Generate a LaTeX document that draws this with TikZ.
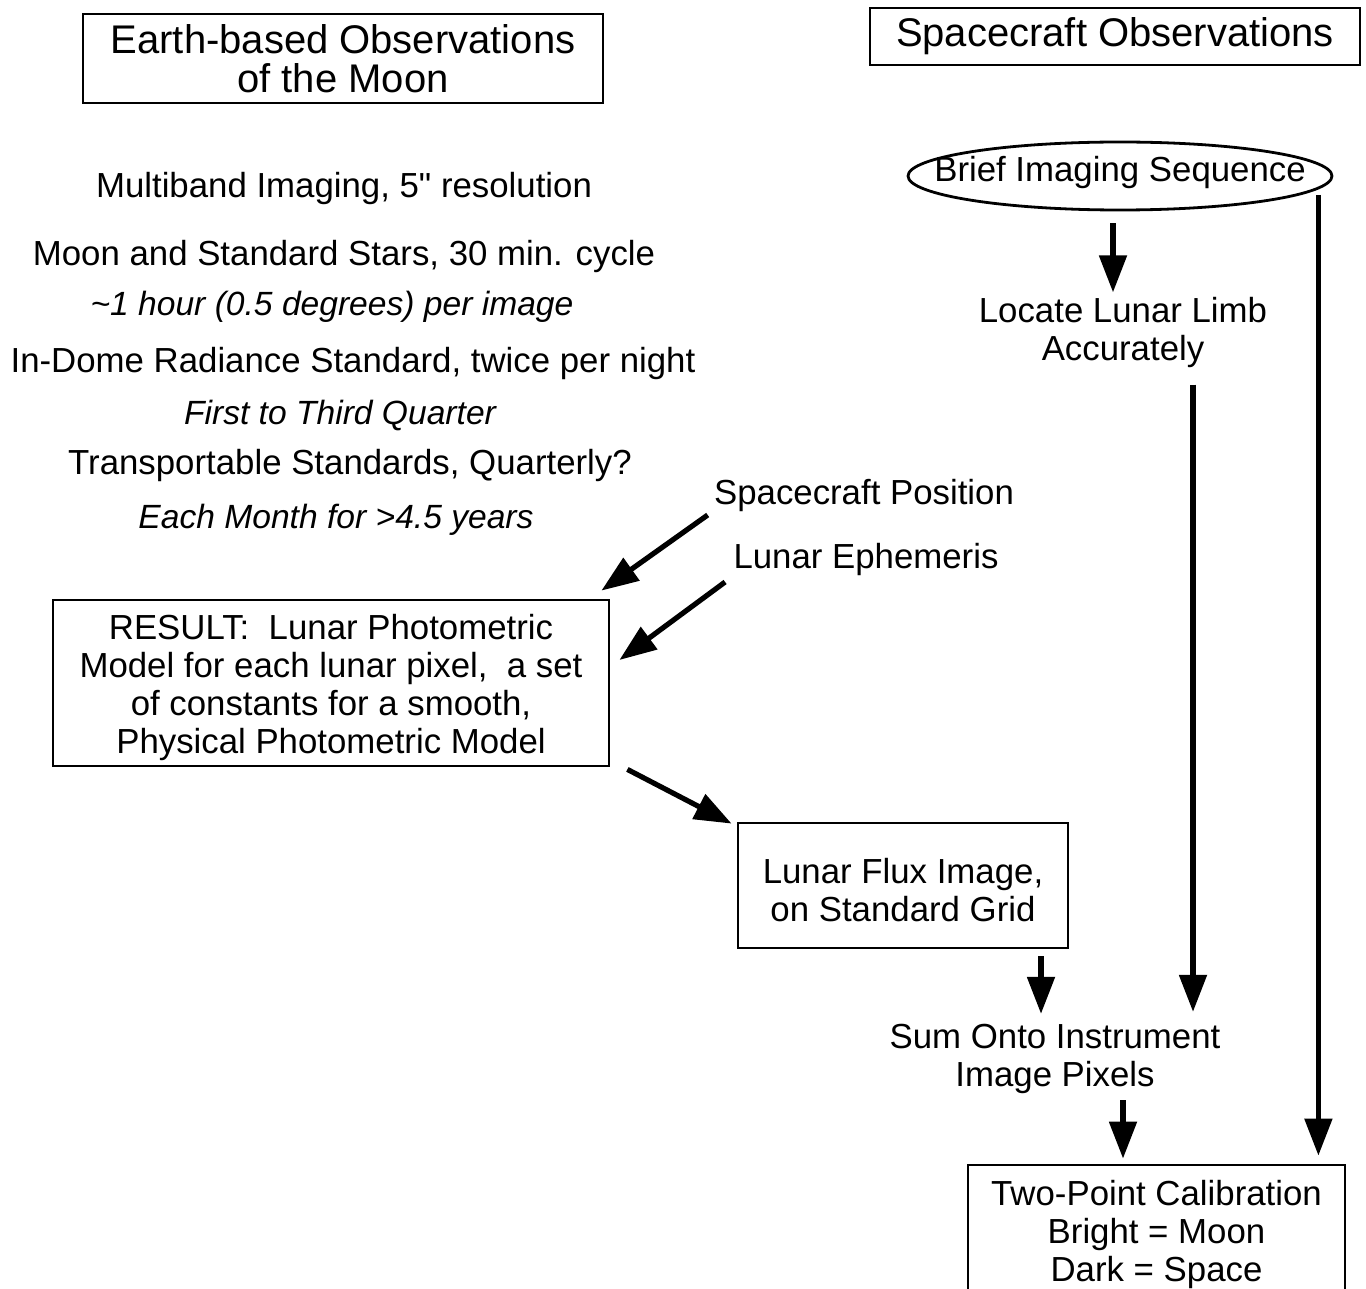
\documentclass[tikz,border=0pt]{standalone}
\usepackage{fontspec}
\defaultfontfeatures[\rmfamily]{}
\setmainfont{Liberation Sans}
\usetikzlibrary{shapes.geometric,arrows.meta}
\newcommand{\dn}{\rule{0pt}{17.5pt}}
\begin{document}
\begin{tikzpicture}[x=0.5pt,y=-0.5pt,
  body/.style={inner sep=0pt,font=\fontsize{17.4}{19}\selectfont,align=center},
  itl/.style={inner sep=0pt,font=\fontsize{16.8}{19}\selectfont\itshape,align=center},
  ttl/.style={draw,line width=1.4pt,inner sep=0pt,font=\fontsize{20}{19.5}\selectfont,align=center},
  boxed/.style={draw,line width=1.4pt,inner sep=0pt,font=\fontsize{17.4}{19}\selectfont,align=center},
  arr/.style={line width=2.6pt,-{Triangle[length=18.5pt,width=13.5pt]}}]
\useasboundingbox (0,0) rectangle (1366,1289);
% titles
\node[ttl,minimum width=260pt,minimum height=44.5pt] (earth) at (343,58.5) {Earth-based Observations\\of the Moon};
\node[ttl,minimum width=245pt,minimum height=28.5pt] (space) at (1115,36.5) {Spacecraft Observations};
% left column texts
\node[body,anchor=base] (multi) at (344,198) {Multiband Imaging, 5" resolution};
\node[body,anchor=base] (moon) at (344,266) {Moon and Standard Stars, 30 min. cycle};
\node[itl,anchor=base] (hour) at (332,316) {\char`\~1 hour (0.5 degrees) per image};
\node[body,anchor=base] (dome) at (353,372) {In-Dome Radiance Standard, twice per night};
\node[itl,anchor=base] (first) at (340,424) {First to Third Quarter};
\node[body,anchor=base] (trans) at (350,474) {Transportable Standards, Quarterly?};
\node[itl,anchor=base] (each) at (336,528) {Each Month for >4.5 years};
% right side
\node[ellipse,draw,line width=1.4pt,inner sep=0pt,minimum width=212pt,minimum height=34pt,
      font=\fontsize{17.4}{19}\selectfont] (ell) at (1120,176)
      {\makebox[0pt]{\raisebox{-3pt}[0pt][0pt]{Brief Imaging Sequence}}};
\node[body] (locate) at (1123,333) {Locate Lunar Limb\\Accurately};
\node[body,anchor=base] (scpos) at (864,504) {Spacecraft Position};
\node[body,anchor=base] (eph) at (866,568) {Lunar Ephemeris};
\node[boxed,minimum width=278pt,minimum height=83pt] (result) at (331,683)
  {\dn RESULT:\ \ Lunar Photometric\\Model for each lunar pixel,\ \ a set\\of constants for a smooth,\\Physical Photometric Model};
\node[boxed,minimum width=165pt,minimum height=62.5pt] (flux) at (903,885.5)
  {\dn Lunar Flux Image,\\on Standard Grid};
\node[body] (sum) at (1055,1059) {Sum Onto Instrument\\Image Pixels};
\node[boxed,minimum width=188.5pt,minimum height=65pt] (two) at (1156.5,1230)
  {\dn Two-Point Calibration\\Bright = Moon\\Dark = Space};
% connectors
\coordinate (e1) at ([xshift=-3.5pt,yshift=-6pt]ell.south);
\draw[arr,shorten >=2.5pt] (e1) -- (e1 |- locate.north);
\coordinate (l2) at ([xshift=35pt,yshift=-8pt]locate.south);
\draw[arr,shorten >=6pt] (l2) -- (l2 |- sum.north);
\coordinate (e2) at ([xshift=-7.5pt,yshift=-9.5pt]ell.east);
\draw[arr,shorten >=4pt] (e2) -- (e2 |- two.north);
\draw[arr] ([shift={(-3pt,-10pt)}]scpos.west) -- ([shift={(-4.5pt,4pt)}]result.north east);
\draw[arr] ([shift={(-4pt,-11.5pt)}]eph.west) -- ([shift={(4.5pt,11.5pt)}]result.east);
\draw[arr] ([shift={(8.5pt,-1pt)}]result.south east) -- ([shift={(-2.5pt,-1pt)}]flux.north west);
\coordinate (f2) at ([xshift=69pt,yshift=-3.5pt]flux.south);
\draw[arr,shorten >=5pt] (f2) -- (f2 |- sum.north);
\coordinate (s2) at ([xshift=34pt,yshift=-3pt]sum.south);
\draw[arr,shorten >=2.5pt] (s2) -- (s2 |- two.north);
\end{tikzpicture}
\end{document}
